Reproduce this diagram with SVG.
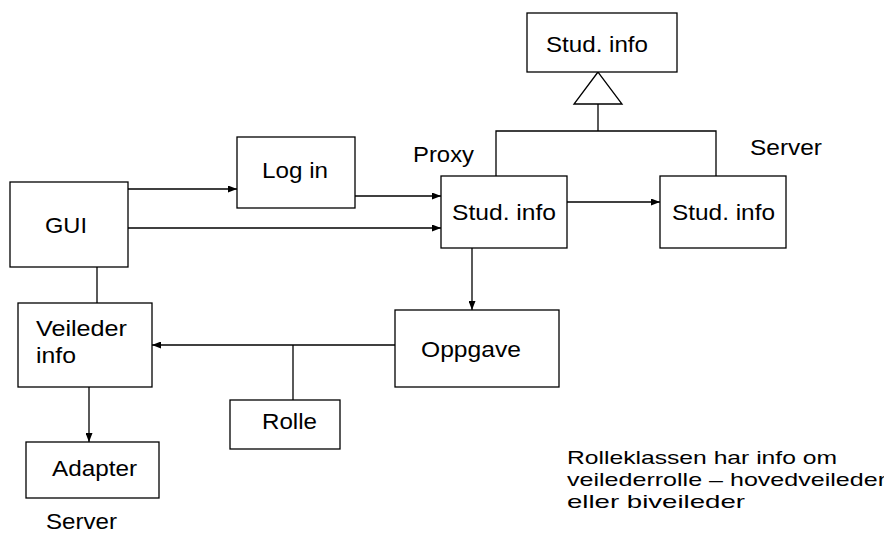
<svg xmlns="http://www.w3.org/2000/svg" width="884" height="534" viewBox="0 0 884 534">
<style>
rect{fill:#fff;stroke:#000;stroke-width:1.3}
text{font-family:"Liberation Sans",Arial,sans-serif;font-size:21.5px;fill:#000}
text.n{font-size:19px}
.c line,.c polyline{stroke:#000;stroke-width:1.3;fill:none}
</style>
<defs>
<marker id="a" viewBox="0 0 9 7" refX="9" refY="3.5" markerWidth="9" markerHeight="7" markerUnits="userSpaceOnUse" orient="auto">
<path d="M0,0L9,3.5L0,7z" fill="#000"/>
</marker>
</defs>
<rect width="884" height="534" style="stroke:none"/>
<g class="c" id="connectors">
<polygon points="598,72 574,104 622,104" style="fill:#fff;stroke:#000;stroke-width:1.3"/>
<line x1="598" y1="104" x2="598" y2="131"/>
<polyline points="496,176 496,131 716,131 716,176"/>
<line x1="128" y1="189" x2="237" y2="189" marker-end="url(#a)"/>
<line x1="355" y1="196" x2="441" y2="196" marker-end="url(#a)"/>
<line x1="128" y1="228" x2="441" y2="228" marker-end="url(#a)"/>
<line x1="567" y1="202" x2="660" y2="202" marker-end="url(#a)"/>
<line x1="472" y1="248" x2="472" y2="310" marker-end="url(#a)"/>
<line x1="97" y1="267" x2="97" y2="303"/>
<line x1="395" y1="345" x2="152" y2="345" marker-end="url(#a)"/>
<line x1="293" y1="345" x2="293" y2="400"/>
<line x1="89" y1="387" x2="89" y2="442" marker-end="url(#a)"/>
</g>
<g id="studinfo-top"><rect x="527" y="13" width="150" height="59"/><text x="546" y="52" textLength="102" lengthAdjust="spacingAndGlyphs">Stud. info</text></g>
<g id="login"><rect x="237" y="137" width="118" height="71"/><text x="262" y="178" textLength="66" lengthAdjust="spacingAndGlyphs">Log in</text></g>
<g id="gui"><rect x="10" y="182" width="118" height="85"/><text x="45" y="233" textLength="42" lengthAdjust="spacingAndGlyphs">GUI</text></g>
<g id="studinfo-proxy"><rect x="441" y="176" width="126" height="72"/><text x="452" y="220" textLength="104" lengthAdjust="spacingAndGlyphs">Stud. info</text></g>
<g id="studinfo-server"><rect x="660" y="176" width="126" height="72"/><text x="672" y="220" textLength="103" lengthAdjust="spacingAndGlyphs">Stud. info</text></g>
<g id="veileder"><rect x="18" y="303" width="134" height="84"/><text x="36" y="336" textLength="91" lengthAdjust="spacingAndGlyphs">Veileder</text><text x="36" y="363" textLength="40" lengthAdjust="spacingAndGlyphs">info</text></g>
<g id="oppgave"><rect x="395" y="310" width="164" height="77"/><text x="421" y="357" textLength="100" lengthAdjust="spacingAndGlyphs">Oppgave</text></g>
<g id="rolle"><rect x="230" y="400" width="110" height="49"/><text x="262" y="429" textLength="55" lengthAdjust="spacingAndGlyphs">Rolle</text></g>
<g id="adapter"><rect x="26" y="442" width="133" height="56"/><text x="52" y="476" textLength="85" lengthAdjust="spacingAndGlyphs">Adapter</text></g>
<g id="labels">
<text x="413" y="162" textLength="61" lengthAdjust="spacingAndGlyphs">Proxy</text>
<text x="750" y="155" textLength="72" lengthAdjust="spacingAndGlyphs">Server</text>
<text x="46" y="529" textLength="71" lengthAdjust="spacingAndGlyphs">Server</text>
<text class="n" x="567" y="464" textLength="270" lengthAdjust="spacingAndGlyphs">Rolleklassen har info om</text>
<text class="n" x="567" y="486" textLength="319" lengthAdjust="spacingAndGlyphs">veilederrolle – hovedveileder</text>
<text class="n" x="567" y="508" textLength="178" lengthAdjust="spacingAndGlyphs">eller biveileder</text>
</g>
</svg>
